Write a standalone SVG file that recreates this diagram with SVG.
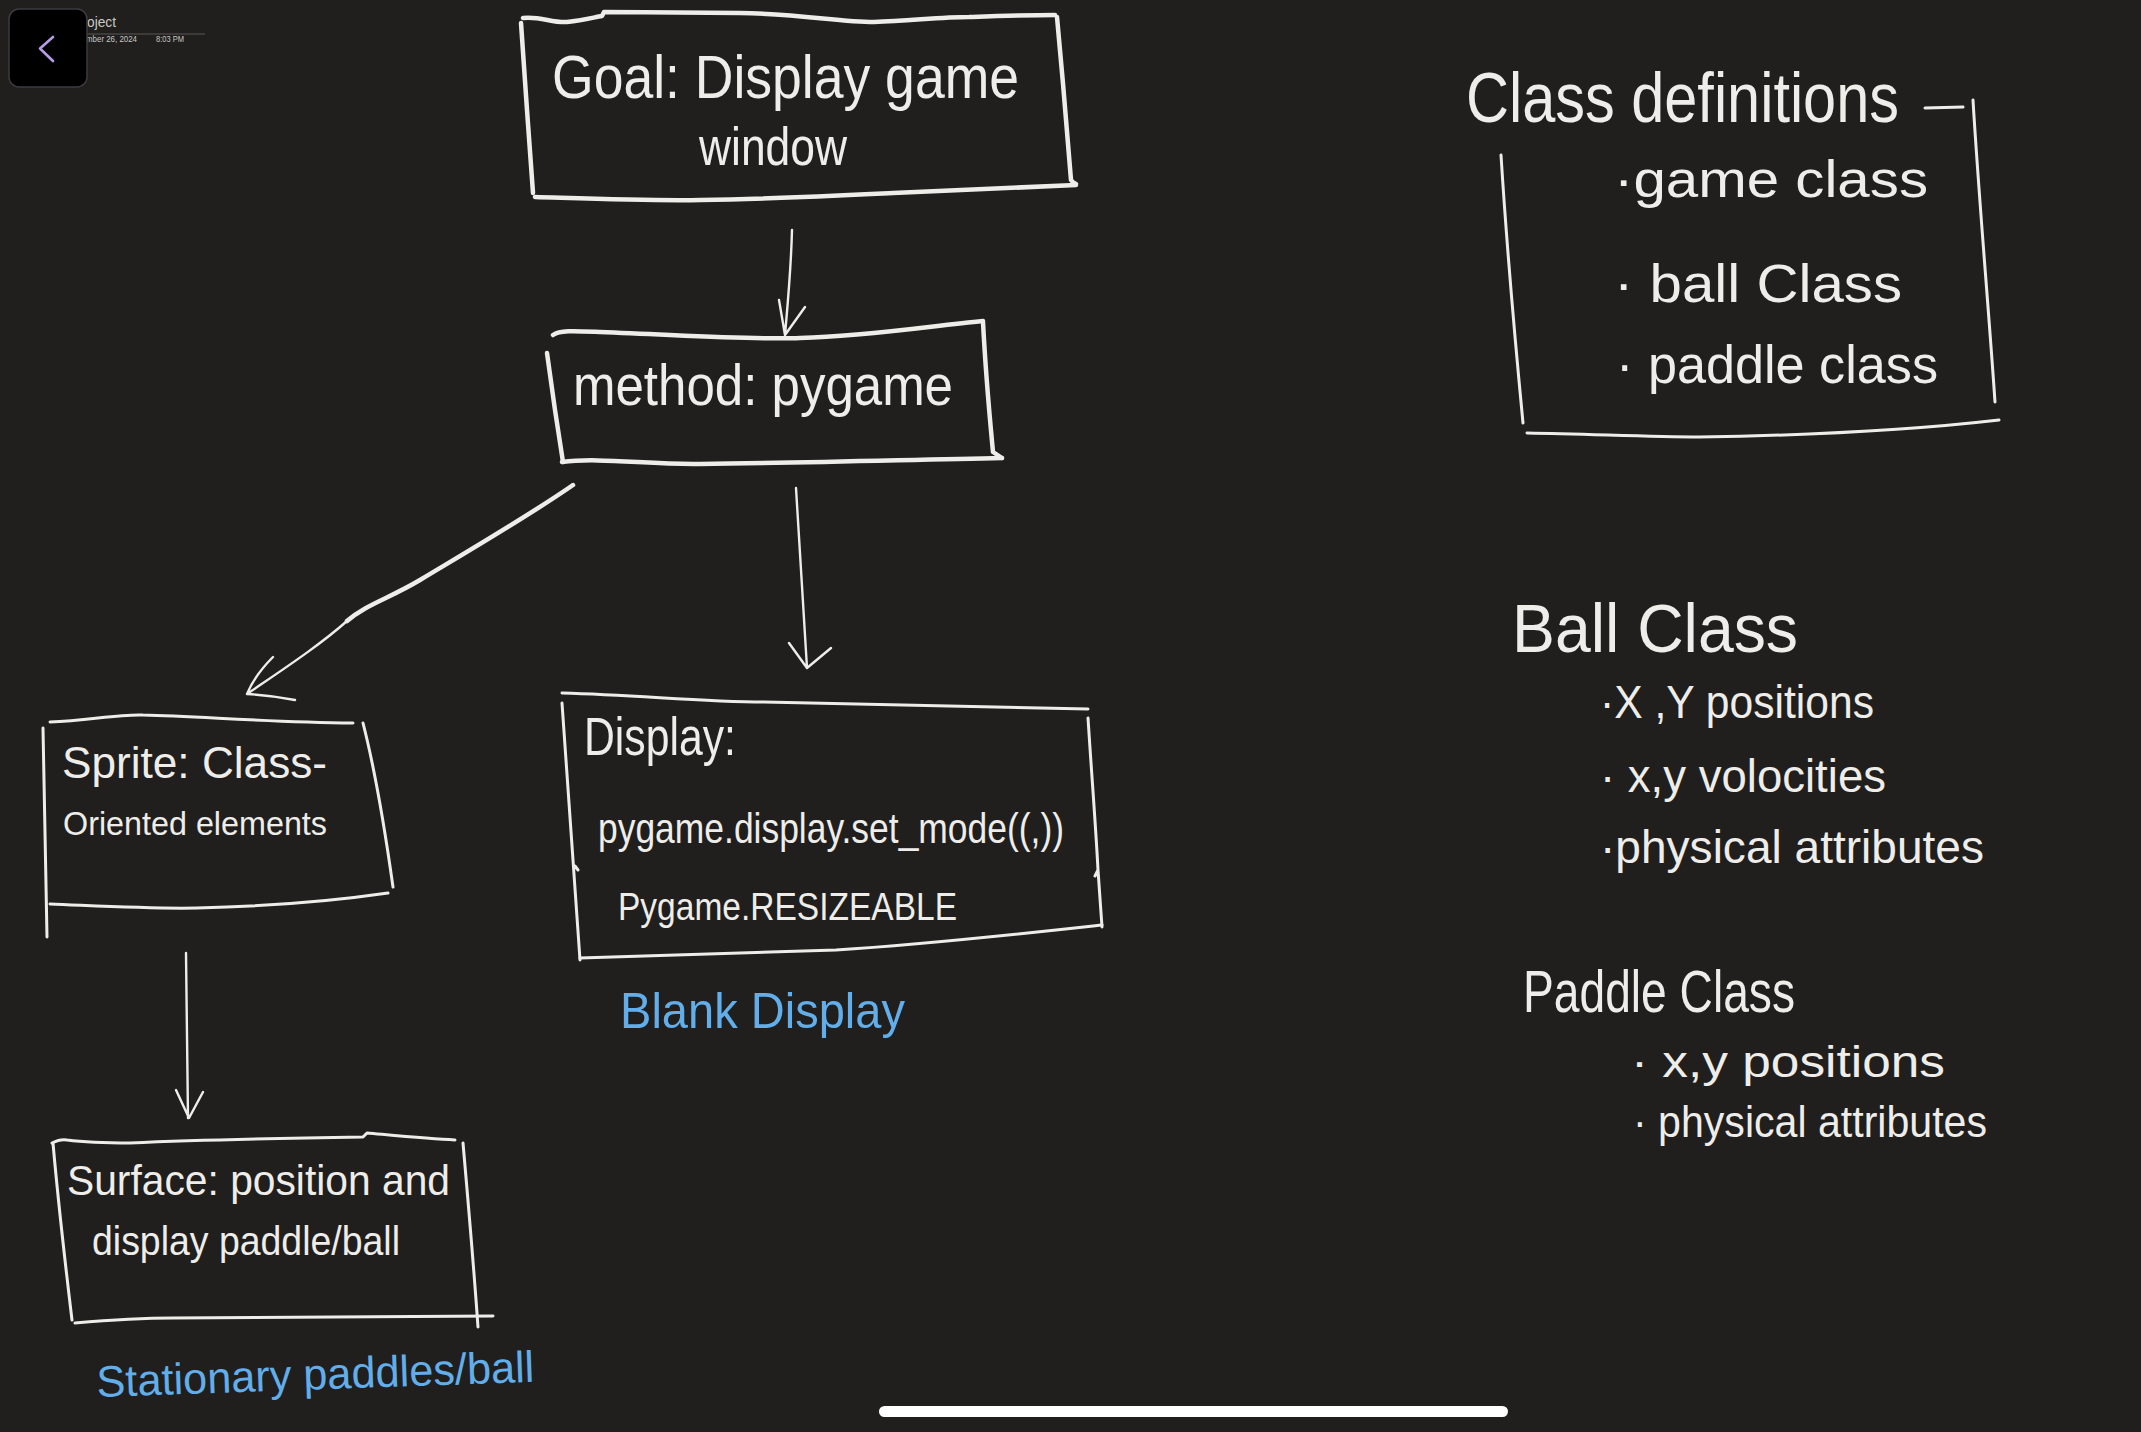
<svg xmlns="http://www.w3.org/2000/svg" width="2141" height="1432" viewBox="0 0 2141 1432">
<style>
.ink{fill:none;stroke:#eeede9;stroke-linecap:round;stroke-linejoin:round}
.thick{stroke-width:4.5}
.thin{stroke-width:3}
.fine{stroke-width:2.4}
.t{font-family:"Liberation Sans",Arial,sans-serif;fill:#eeede9}
.b{font-family:"Liberation Sans",Arial,sans-serif;fill:#62aeea}
.ui{font-family:"Liberation Sans",Arial,sans-serif;fill:#c9c8c6}
</style>
<rect x="0" y="0" width="2141" height="1432" fill="#201f1d"/>

<g id="header">
  <text class="ui" x="87" y="27" font-size="14" textLength="29" lengthAdjust="spacingAndGlyphs">oject</text>
  <line x1="87" y1="34" x2="205" y2="34" stroke="#5a5957" stroke-width="1.2"/>
  <text class="ui" x="86" y="42" font-size="8.5" textLength="51" lengthAdjust="spacingAndGlyphs">mber 26, 2024</text>
  <text class="ui" x="156" y="42" font-size="8.5" textLength="28" lengthAdjust="spacingAndGlyphs">8:03 PM</text>
  <rect x="9" y="9" width="78" height="78" rx="10" fill="#000" stroke="#3d3b40" stroke-width="1.5"/>
  <path d="M53,37 L40,48.5 L53,61" fill="none" stroke="#b79de6" stroke-width="2.6" stroke-linecap="round" stroke-linejoin="round"/>
</g>

<g id="goal">
  <path class="ink thick" d="M523,18 C540,16 552,23 567,22 C585,20 595,17 602,16 L604,12 C650,12 700,13 740,13 C800,14 840,22 874,22 C910,21 940,17 969,17 C1000,16 1030,15 1055,15"/>
  <path class="ink thick" d="M1057,17 C1062,70 1067,130 1071,180 C1072,182 1074,183 1076,184"/>
  <path class="ink thick" d="M535,197 C600,199 650,201 701,200 C770,199 830,196 893,193 C960,190 1020,188 1076,185"/>
  <path class="ink thick" d="M521,23 L527,110 L533,193"/>
  <text class="t" x="552" y="98" font-size="62" textLength="467" lengthAdjust="spacingAndGlyphs">Goal: Display game</text>
  <text class="t" x="699" y="165" font-size="54" textLength="148" lengthAdjust="spacingAndGlyphs">window</text>
</g>

<g id="method">
  <path class="ink thick" d="M553,335 C560,330 575,331 600,332 C700,336 760,340 800,338 C870,336 930,326 983,321"/>
  <path class="ink thick" d="M983,322 C986,380 990,420 993,452 L1002,458"/>
  <path class="ink thick" d="M562,462 C600,457 650,465 700,464 C800,463 900,460 1002,458"/>
  <path class="ink thick" d="M547,353 L555,410 L563,462"/>
  <text class="t" x="573" y="405" font-size="58" textLength="380" lengthAdjust="spacingAndGlyphs">method: pygame</text>
</g>

<g id="sprite">
  <path class="ink thin" d="M50,722 C90,720 120,714 143,715 C200,716 260,722 353,723"/>
  <path class="ink thin" d="M43,728 L47,937"/>
  <path class="ink thin" d="M363,723 C375,770 385,830 393,887"/>
  <path class="ink thin" d="M50,904 C100,906 150,909 197,908 C280,906 340,900 388,893"/>
  <text class="t" x="62" y="778" font-size="44" textLength="265" lengthAdjust="spacingAndGlyphs">Sprite: Class-</text>
  <text class="t" x="63" y="835" font-size="34" textLength="264" lengthAdjust="spacingAndGlyphs">Oriented elements</text>
</g>

<g id="display">
  <path class="ink thin" d="M562,693 C640,695 700,702 764,702 C880,704 990,706 1088,709"/>
  <path class="ink thin" d="M562,703 C568,780 574,870 580,960 M575,866 L578,870"/>
  <path class="ink thin" d="M1088,718 C1092,780 1096,830 1098,870 L1102,927 M1098,870 L1095,876"/>
  <path class="ink thin" d="M580,958 C670,955 760,952 836,950 C930,944 1020,934 1102,925"/>
  <text class="t" x="584" y="755" font-size="54" textLength="152" lengthAdjust="spacingAndGlyphs">Display:</text>
  <text class="t" x="598" y="843" font-size="42" textLength="466" lengthAdjust="spacingAndGlyphs">pygame.display.set_mode((,))</text>
  <text class="t" x="618" y="920" font-size="38" textLength="339" lengthAdjust="spacingAndGlyphs">Pygame.RESIZEABLE</text>
  <text class="b" x="620" y="1028" font-size="50" textLength="285" lengthAdjust="spacingAndGlyphs">Blank Display</text>
</g>

<g id="surface">
  <path class="ink thin" d="M52,1143 C58,1140 62,1139 67,1140 C90,1143 110,1143 130,1143 C200,1140 300,1138 363,1137 L367,1133 C400,1136 430,1139 455,1140"/>
  <path class="ink thin" d="M53,1143 C58,1200 66,1270 72,1320"/>
  <path class="ink thin" d="M463,1143 C468,1200 474,1270 478,1327"/>
  <path class="ink thin" d="M75,1323 C110,1320 140,1318 173,1318 C300,1317 400,1316 493,1316"/>
  <text class="t" x="67" y="1195" font-size="42" textLength="383" lengthAdjust="spacingAndGlyphs">Surface: position and</text>
  <text class="t" x="92" y="1255" font-size="40" textLength="308" lengthAdjust="spacingAndGlyphs">display paddle/ball</text>
  <text class="b" x="97" y="1397" font-size="44" textLength="438" lengthAdjust="spacingAndGlyphs" transform="rotate(-2 97 1397)">Stationary paddles/ball</text>
</g>

<g id="class-definitions">
  <path class="ink thin" d="M1925,108 L1963,107"/>
  <path class="ink thin" d="M1973,100 C1979,200 1988,300 1995,402"/>
  <path class="ink thin" d="M1501,155 C1507,250 1515,340 1523,423"/>
  <path class="ink thin" d="M1527,433 C1590,434 1650,437 1699,437 C1830,435 1930,428 1999,420"/>
  <text class="t" x="1466" y="122" font-size="70" textLength="433" lengthAdjust="spacingAndGlyphs">Class definitions</text>
  <text class="t" x="1614" y="197" font-size="52" textLength="314" lengthAdjust="spacingAndGlyphs">·game class</text>
  <text class="t" x="1614" y="302" font-size="54" textLength="288" lengthAdjust="spacingAndGlyphs">· ball Class</text>
  <text class="t" x="1616" y="383" font-size="54" textLength="322" lengthAdjust="spacingAndGlyphs">· paddle class</text>
</g>

<g id="ball-class">
  <text class="t" x="1512" y="652" font-size="68" textLength="286" lengthAdjust="spacingAndGlyphs">Ball Class</text>
  <text class="t" x="1600" y="718" font-size="46" textLength="274" lengthAdjust="spacingAndGlyphs">·X ,Y positions</text>
  <text class="t" x="1600" y="792" font-size="46" textLength="286" lengthAdjust="spacingAndGlyphs">· x,y volocities</text>
  <text class="t" x="1600" y="863" font-size="46" textLength="384" lengthAdjust="spacingAndGlyphs">·physical attributes</text>
</g>

<g id="paddle-class">
  <text class="t" x="1523" y="1012" font-size="60" textLength="272" lengthAdjust="spacingAndGlyphs">Paddle Class</text>
  <text class="t" x="1631" y="1077" font-size="44" textLength="314" lengthAdjust="spacingAndGlyphs">· x,y positions</text>
  <text class="t" x="1633" y="1137" font-size="44" textLength="354" lengthAdjust="spacingAndGlyphs">· physical attributes</text>
</g>

<g id="connectors">
  <path class="ink fine" d="M792,230 C791,270 788,300 785,335 M779,300 L785,335 L805,307"/>
  <path class="ink thick" d="M573,485 C530,515 470,550 420,580 C390,598 365,605 347,621"/>
  <path class="ink fine" d="M347,621 C320,645 285,668 247,694 M273,657 C262,668 252,682 247,694 C265,695 280,697 295,700"/>
  <path class="ink fine" d="M796,488 C800,550 804,610 807,668 M789,643 L807,668 L831,648"/>
  <path class="ink fine" d="M186,953 L188,1118 M176,1090 L189,1118 L203,1092"/>
</g>

<rect id="home-indicator" x="879" y="1406" width="629" height="11" rx="5.5" fill="#ffffff"/>
</svg>
